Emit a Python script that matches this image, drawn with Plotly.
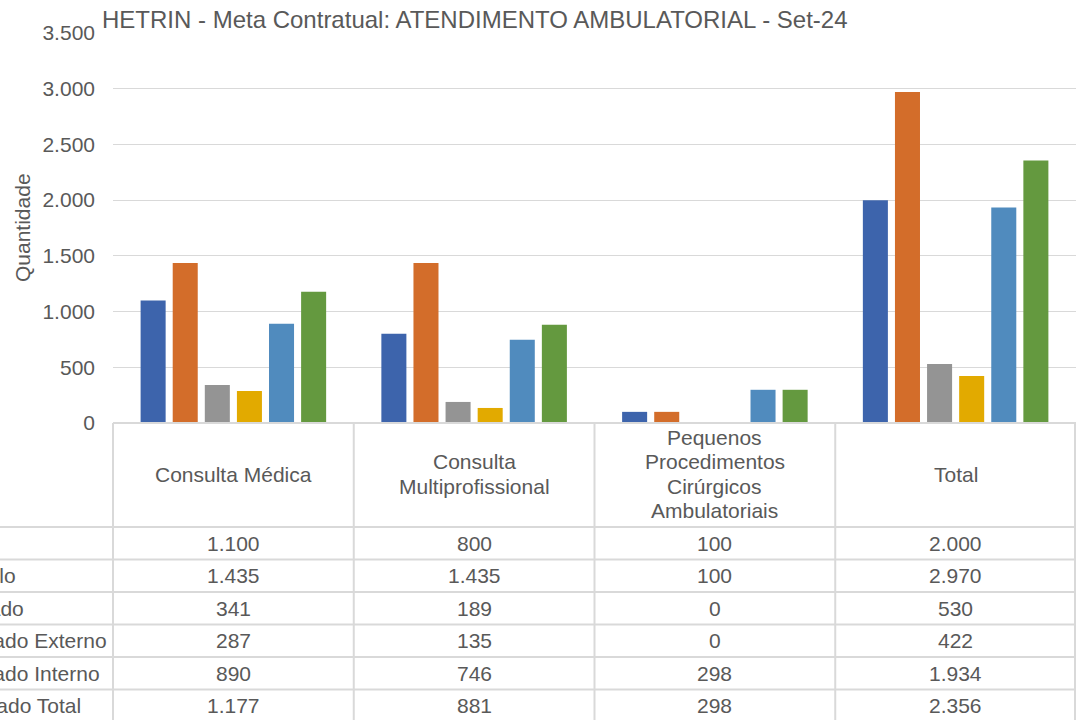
import plotly.graph_objects as go

# ---------------- data ----------------
categories = ["Consulta Médica", "Consulta Multiprofissional",
              "Pequenos Procedimentos Cirúrgicos Ambulatoriais", "Total"]
header_lines = [["Consulta Médica"],
                ["Consulta", "Multiprofissional"],
                ["Pequenos", "Procedimentos", "Cirúrgicos", "Ambulatoriais"],
                ["Total"]]
series_names = ["Meta", "Protocolo", "Agendado",
                "Realizado Externo", "Realizado Interno", "Realizado Total"]
meta = [1100, 800, 100, 2000]
protocolo = [1435, 1435, 100, 2970]
agendado = [341, 189, 0, 530]
realizado_externo = [287, 135, 0, 422]
realizado_interno = [890, 746, 298, 1934]
realizado_total = [1177, 881, 298, 2356]
series_values = [meta, protocolo, agendado, realizado_externo,
                 realizado_interno, realizado_total]
colors = ["#3D64AC", "#D36D2A", "#949494", "#E2AA00", "#508BBE", "#64993F"]
title = "HETRIN - Meta Contratual: ATENDIMENTO AMBULATORIAL - Set-24"
y_title = "Quantidade"

# ---------------- layout geometry (page pixels) ----------------
W, H = 1076, 720
L, R, T, B = 113, 0, 33, 297  # plot area
PW = W - L - R
PH = H - T - B
TXT = "#595959"
GRID = "#D9D9D9"
FONT = "Arial, Liberation Sans, sans-serif"


def px(xp):
    return (xp - L) / PW


def py(yp):
    return (H - B - yp) / PH


fig = go.Figure()
for name, vals, col in zip(series_names, series_values, colors):
    fig.add_trace(go.Bar(x=categories, y=vals, name=name,
                         marker=dict(color=col, line=dict(width=0))))

shapes = []
annotations = []

# table geometry
top = H - B            # 423
header_bottom = 527
row_h = 32.5
col_w = PW / len(categories)
line = dict(color=GRID, width=2)

shapes.append(dict(type="line", xref="paper", yref="paper",
                   x0=px(L), x1=px(W), y0=py(top), y1=py(top), line=line))
for i in range(len(series_names) + 1):
    yy = header_bottom + i * row_h
    shapes.append(dict(type="line", xref="paper", yref="paper",
                       x0=px(-5), x1=px(W), y0=py(yy), y1=py(yy), line=line))
for j in range(len(categories) + 1):
    xx = L + j * col_w
    if j == len(categories):
        xx = W - 1
    shapes.append(dict(type="line", xref="paper", yref="paper",
                       x0=px(xx), x1=px(xx), y0=py(top), y1=py(H + 10), line=line))

line_sp = 24.6
for j, lines in enumerate(header_lines):
    cx = L + (j + 0.5) * col_w
    cy = (top + header_bottom) / 2 - 1
    n = len(lines)
    for k, t in enumerate(lines):
        yy = cy + (k - (n - 1) / 2) * line_sp
        annotations.append(dict(xref="paper", yref="paper", x=px(cx), y=py(yy),
                                text=t, showarrow=False, xanchor="center",
                                yanchor="middle",
                                font=dict(size=21, color=TXT, family=FONT)))

for i, vals in enumerate(series_values):
    cy = header_bottom + (i + 0.5) * row_h
    for j, v in enumerate(vals):
        cx = L + (j + 0.5) * col_w
        annotations.append(dict(xref="paper", yref="paper", x=px(cx), y=py(cy),
                                text=f"{v:,}".replace(",", "."), showarrow=False,
                                xanchor="center", yanchor="middle",
                                font=dict(size=21, color=TXT, family=FONT)))

label_right = [-20, 18, 26, 109, 102, 83]
for i, name in enumerate(series_names):
    cy = header_bottom + (i + 0.5) * row_h
    annotations.append(dict(xref="paper", yref="paper", x=px(label_right[i]),
                            y=py(cy), text=name, showarrow=False,
                            xanchor="right", yanchor="middle",
                            font=dict(size=21, color=TXT, family=FONT)))

annotations.append(dict(xref="paper", yref="paper", x=px(100), y=py(20),
                        text=title, showarrow=False, xanchor="left",
                        yanchor="middle",
                        font=dict(size=24, color=TXT, family=FONT)))
annotations.append(dict(xref="paper", yref="paper", x=px(22), y=py(228),
                        text=y_title, showarrow=False, textangle=-90,
                        xanchor="center", yanchor="middle",
                        font=dict(size=21, color=TXT, family=FONT)))

fig.update_layout(
    width=W, height=H,
    margin=dict(l=L, r=R, t=T, b=B),
    paper_bgcolor="white", plot_bgcolor="white",
    separators=",.",
    barmode="group", bargap=0.2, bargroupgap=0.22,
    showlegend=False,
    shapes=shapes, annotations=annotations,
    font=dict(family=FONT, color=TXT),
    xaxis=dict(showticklabels=False, showgrid=False, showline=False,
               zeroline=False, ticks="", range=[-0.5, 3.5]),
    yaxis=dict(range=[0, 3500], dtick=500, tickformat=",d",
               showgrid=True, gridcolor=GRID, gridwidth=1.3,
               zeroline=False, showline=False, ticks="",
               ticklabelstandoff=17,
               tickfont=dict(size=21, color=TXT, family=FONT)),
)

fig.write_html("out.html", config={"displayModeBar": False},
               post_script="document.body.style.margin='0';"
                           "document.body.style.overflow='hidden';")
